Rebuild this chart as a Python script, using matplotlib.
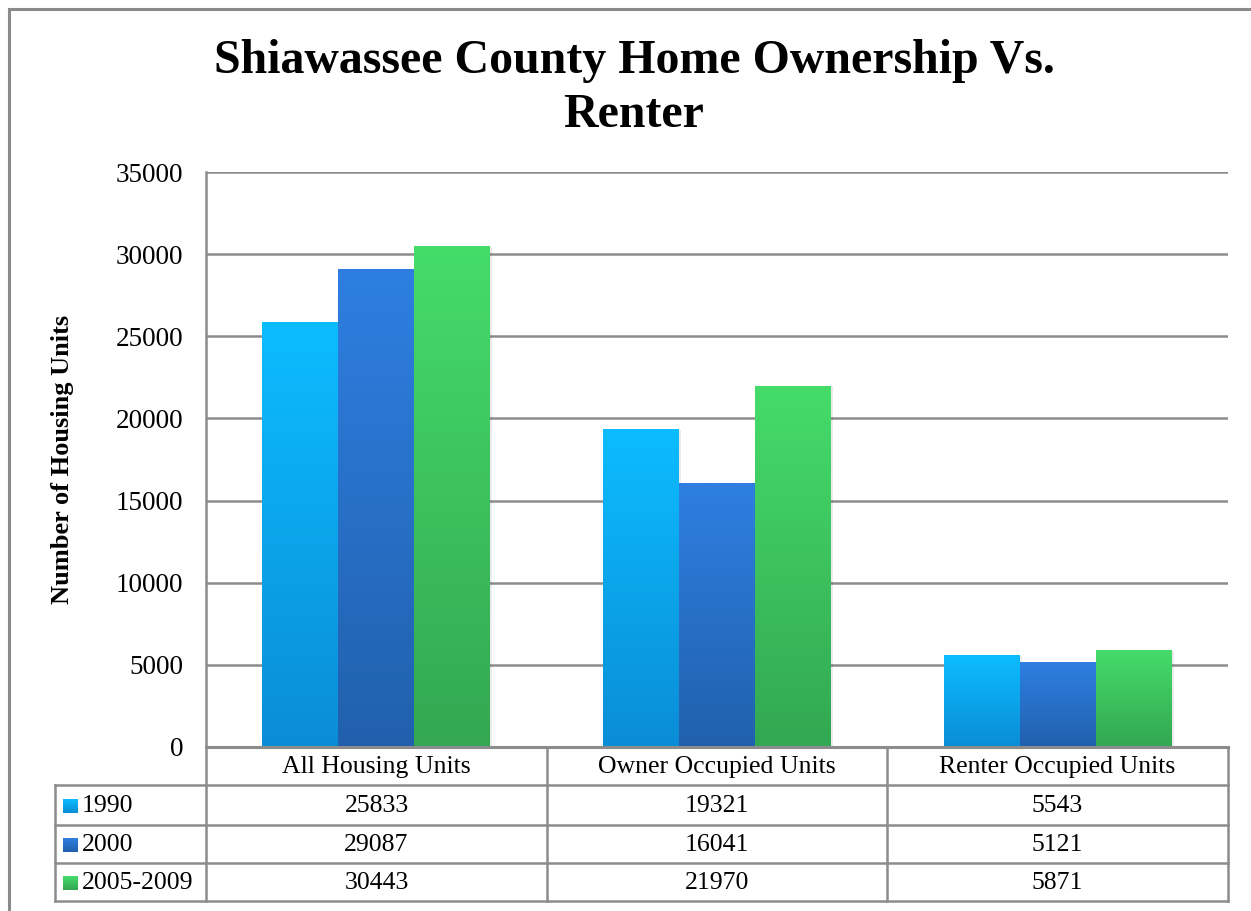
import matplotlib.pyplot as plt
import numpy as np
from matplotlib.colors import LinearSegmentedColormap
from matplotlib.patches import Rectangle

plt.rcParams['font.family'] = ['Liberation Serif', 'DejaVu Serif']

# Data
categories = ['All Housing Units', 'Owner Occupied Units', 'Renter Occupied Units']
series = ['1990', '2000', '2005-2009']
v1990 = [25833, 19321, 5543]
v2000 = [29087, 16041, 5121]
v2005 = [30443, 21970, 5871]
values = [v1990, v2000, v2005]
yticks = [0, 5000, 10000, 15000, 20000, 25000, 30000, 35000]

# gradient top / bottom colours per series
top_colors = ['#0dbcff', '#2e7fe1', '#45dc6a']
bottom_colors = ['#0a8dd6', '#2160ad', '#33a752']
grid_color = '#8c8c8c'

W, H = 1251, 911
fig = plt.figure(figsize=(W / 100, H / 100), dpi=100)

# axes placed in pixel coords of the reference
left, right, top, bottom = 206, 1228, 172, 747
ax = fig.add_axes([left / W, 1 - bottom / H, (right - left) / W, (bottom - top) / H])

n_cat = len(categories)
bw = 0.223
ymax = 35000

for s in range(len(series)):
    cmap = LinearSegmentedColormap.from_list('g%d' % s, [bottom_colors[s], top_colors[s]])
    grad = np.linspace(0, 1, 256).reshape(-1, 1)
    for c in range(n_cat):
        x0 = c + 0.5 + (s - 1) * bw - bw / 2
        h = values[s][c]
        # faint shadow to the right
        ax.add_patch(Rectangle((x0 + 0.006, 0), bw, h, facecolor='#000000',
                               alpha=0.08, edgecolor='none', zorder=2))
        ax.imshow(grad, extent=(x0, x0 + bw, 0, h), origin='lower', cmap=cmap,
                  aspect='auto', zorder=3, interpolation='bilinear')

ax.set_yticks(yticks)
ax.set_yticklabels([str(t) for t in yticks], fontsize=19.5)
ax.tick_params(axis='y', length=0, pad=16.5)
ax.set_xticks([])
ax.grid(axis='y', color=grid_color, linewidth=1.8, zorder=1)
ax.set_axisbelow(True)
for sp in ['top', 'right']:
    ax.spines[sp].set_visible(False)
ax.spines['left'].set_color(grid_color)
ax.spines['left'].set_linewidth(1.8)
ax.spines['bottom'].set_color(grid_color)
ax.spines['bottom'].set_linewidth(2.2)
ax.spines['bottom'].set_zorder(5)

ax.set_ylabel('Number of Housing Units', fontsize=19, fontweight='bold')
ax.yaxis.set_label_coords(-(left - 74) / (right - left), 0.5)

fig.text(634 / W, 1 - 88 / H, 'Shiawassee County Home Ownership Vs.\nRenter',
         ha='center', va='center', fontsize=34.5, fontweight='bold', linespacing=1.28)

# data table below the axes, drawn in axes coordinates
def ax_x(px):
    return (px - left) / (right - left)

def ax_y(py):
    return (bottom - py) / (bottom - top)

row_edges = [747, 785, 825, 863, 901]
col_edges = [55, 206, 547, 887, 1228]
line_kw = dict(color=grid_color, linewidth=1.8, transform=ax.transAxes, clip_on=False, zorder=4)

# horizontal lines
ax.plot([ax_x(206), ax_x(1228)], [ax_y(747)] * 2, **line_kw)
for ry in row_edges[1:]:
    ax.plot([ax_x(55), ax_x(1228)], [ax_y(ry)] * 2, **line_kw)
# vertical lines
ax.plot([ax_x(55)] * 2, [ax_y(785), ax_y(901)], **line_kw)
for cx in col_edges[1:]:
    ax.plot([ax_x(cx)] * 2, [ax_y(747), ax_y(901)], **line_kw)

fs_table = 18.5
for c in range(n_cat):
    xc = ax_x((col_edges[c + 1] + col_edges[c + 2]) / 2)
    ax.text(xc, ax_y((row_edges[0] + row_edges[1]) / 2 + 1), categories[c], transform=ax.transAxes,
            ha='center', va='center', fontsize=fs_table)
    for s in range(len(series)):
        ax.text(xc, ax_y((row_edges[s + 1] + row_edges[s + 2]) / 2 + 1), str(values[s][c]),
                transform=ax.transAxes, ha='center', va='center', fontsize=fs_table)

for s in range(len(series)):
    yc = (row_edges[s + 1] + row_edges[s + 2]) / 2
    cmap = LinearSegmentedColormap.from_list('k%d' % s, [bottom_colors[s], top_colors[s]])
    sq_w, sq_h = 15, 14
    ax.imshow(np.linspace(0, 1, 32).reshape(-1, 1), origin='lower', cmap=cmap,
              extent=(ax_x(63) * n_cat, ax_x(63 + sq_w) * n_cat,
                      ax_y(yc + 1 + sq_h / 2) * ymax, ax_y(yc + 1 - sq_h / 2) * ymax),
              aspect='auto', clip_on=False, zorder=4)
    ax.text(ax_x(82), ax_y(yc + 1), series[s], transform=ax.transAxes,
            ha='left', va='center', fontsize=fs_table)

ax.set_xlim(0, n_cat)
ax.set_ylim(0, ymax)

# outer chart border
fig.patches.append(Rectangle((9 / W, -0.01), 1.02, 1 - 9 / H + 0.01, transform=fig.transFigure,
                             fill=False, edgecolor='#8a8a8a', linewidth=2.2))

fig.savefig('out.png', dpi=100)
